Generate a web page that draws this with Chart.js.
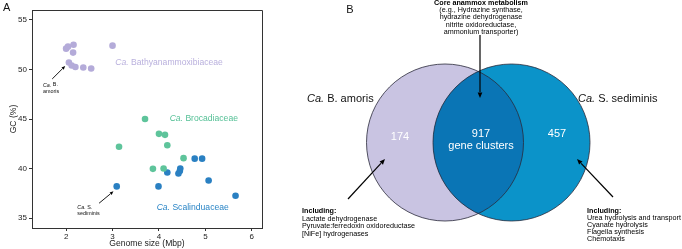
<!DOCTYPE html>
<html><head><meta charset="utf-8">
<script src="https://cdn.jsdelivr.net/npm/chart.js@4/dist/chart.umd.min.js"></script>
<style>
html,body{margin:0;padding:0;background:#fff;}
#wrap{position:relative;width:682px;height:249px;overflow:hidden;background:#fff;}
#a{position:absolute;left:0;top:0;width:300px;height:249px;}
#b{position:absolute;left:300px;top:0;width:382px;height:249px;}
</style></head><body>
<div id="wrap"><div id="a"><canvas id="ca"></canvas></div><div id="b"><canvas id="cb"></canvas></div></div>
<script>
// ---------- data ----------
const families = ['Bathyanammoxibiaceae','Brocadiaceae','Scalinduaceae'];
const bathyGenome = [2.00,2.04,2.16,2.15,2.06,2.12,2.20,2.37,2.54,3.00];
const bathyGC     = [52.1,52.3,52.5,51.7,50.7,50.4,50.25,50.2,50.1,52.4];
const brocGenome  = [3.70,4.00,4.13,3.14,4.18,4.53,3.87,4.10];
const brocGC      = [45.0,43.5,43.4,42.2,42.35,41.05,39.97,40.0];
const scalGenome  = [4.77,4.93,4.46,4.45,4.42,4.18,3.09,3.99,5.07,5.65];
const scalGC      = [41.0,41.0,40.0,39.75,39.5,39.6,38.2,38.2,38.8,37.25];
const xTicks = [2,3,4,5,6];
const yTicks = [35,40,45,50,55];
const vennLabels = ['B. amoris','S. sediminis'];
const vennCounts = [174,917,457]; // unique amoris, shared, unique sediminis
const coreText = ['(e.g., Hydrazine synthase,','hydrazine dehydrogenase','nitrite oxidoreductase,','ammonium transporter)'];
const leftIncl = ['Lactate dehydrogenase','Pyruvate:ferredoxin oxidoreductase','[NiFe] hydrogenases'];
const rightIncl = ['Urea hydrolysis and transport','Cyanate hydrolysis','Flagella synthesis','Chemotaxis'];

const F = '"Liberation Sans", Arial, Helvetica, sans-serif';
const COL = ['#b4abd9','#5ec49b','#2a80c2'];
const TXT = ['#b9b0dd','#55c096','#2a85c6'];

function rich(ctx, segs, x, y, size, color, align){
  ctx.save();
  ctx.fillStyle = color; ctx.textBaseline = 'middle'; ctx.textAlign = 'left';
  let w = 0;
  const fonts = segs.map(s => (s.i?'italic ':'') + (s.b?'bold ':'') + size + 'px ' + F);
  segs.forEach((s,k)=>{ ctx.font = fonts[k]; w += ctx.measureText(s.t).width; });
  let sx = align==='center' ? x - w/2 : (align==='right' ? x - w : x);
  segs.forEach((s,k)=>{ ctx.font = fonts[k]; ctx.fillText(s.t, sx, y); sx += ctx.measureText(s.t).width; });
  ctx.restore();
}
function arrow(ctx, x1,y1,x2,y2, head, lw){
  ctx.save();
  ctx.strokeStyle = '#000'; ctx.fillStyle = '#000'; ctx.lineWidth = lw||1;
  const a = Math.atan2(y2-y1, x2-x1);
  const bx = x2 - head*Math.cos(a), by = y2 - head*Math.sin(a);
  ctx.beginPath(); ctx.moveTo(x1,y1); ctx.lineTo(bx,by); ctx.stroke();
  ctx.beginPath(); ctx.moveTo(x2,y2);
  ctx.lineTo(x2 - head*Math.cos(a-0.4), y2 - head*Math.sin(a-0.4));
  ctx.lineTo(x2 - head*Math.cos(a+0.4), y2 - head*Math.sin(a+0.4));
  ctx.closePath(); ctx.fill();
  ctx.restore();
}

// ---------- panel A ----------
const annotA = {
  id:'annotA',
  afterDraw(chart){
    const {ctx, chartArea:ca, scales:{x,y}} = chart;
    ctx.save();
    ctx.strokeStyle = '#333'; ctx.lineWidth = 1;
    ctx.beginPath();
    ctx.moveTo(ca.left, Math.round(ca.top)+0.5); ctx.lineTo(Math.round(ca.right)+0.5, Math.round(ca.top)+0.5);
    ctx.lineTo(Math.round(ca.right)+0.5, ca.bottom);
    ctx.stroke();
    ctx.restore();
    rich(ctx,[{t:'A'}],3,8,11,'#111','left');
    rich(ctx,[{t:'Ca.',i:true},{t:' '+families[0]}], x.getPixelForValue(3.06), y.getPixelForValue(50.65), 8.6, TXT[0], 'left');
    rich(ctx,[{t:'Ca.',i:true},{t:' '+families[1]}], x.getPixelForValue(4.23), y.getPixelForValue(45.0), 8.6, TXT[1], 'left');
    rich(ctx,[{t:'Ca.',i:true},{t:' '+families[2]}], x.getPixelForValue(3.95), y.getPixelForValue(36.05), 8.6, TXT[2], 'left');
    rich(ctx,[{t:'Ca.',i:true},{t:' B.'}], x.getPixelForValue(1.50), y.getPixelForValue(48.43), 5.4, '#111', 'left');
    rich(ctx,[{t:'amoris'}], x.getPixelForValue(1.50), y.getPixelForValue(47.75), 5.4, '#111', 'left');
    rich(ctx,[{t:'Ca.',i:true},{t:' S.'}], x.getPixelForValue(2.24), y.getPixelForValue(36.06), 5.4, '#111', 'left');
    rich(ctx,[{t:'sediminis'}], x.getPixelForValue(2.24), y.getPixelForValue(35.42), 5.4, '#111', 'left');
    arrow(ctx, x.getPixelForValue(1.70), y.getPixelForValue(49.04), x.getPixelForValue(1.98), y.getPixelForValue(50.35), 4, 0.9);
    arrow(ctx, x.getPixelForValue(2.71), y.getPixelForValue(36.5), x.getPixelForValue(3.02), y.getPixelForValue(37.7), 4, 0.9);
  }
};
const pts = (xs,ys)=>xs.map((v,i)=>({x:v,y:ys[i]}));
new Chart(document.getElementById('ca'),{
  type:'scatter',
  data:{datasets:[
    {label:families[0],data:pts(bathyGenome,bathyGC),backgroundColor:COL[0],borderWidth:0,pointRadius:3.3},
    {label:families[1],data:pts(brocGenome,brocGC),backgroundColor:COL[1],borderWidth:0,pointRadius:3.3},
    {label:families[2],data:pts(scalGenome,scalGC),backgroundColor:COL[2],borderWidth:0,pointRadius:3.3}
  ]},
  options:{
    responsive:true, maintainAspectRatio:false, animation:false, events:[],
    layout:{padding:{left:0,top:10,right:38,bottom:0}},
    plugins:{legend:{display:false},tooltip:{enabled:false}},
    scales:{
      x:{type:'linear',min:1.265,max:6.22,
        afterBuildTicks:s=>{s.ticks=xTicks.map(v=>({value:v}));},
        afterFit:s=>{s.height=21;},
        grid:{display:true,drawOnChartArea:false,drawTicks:true,tickLength:3,color:'#333',lineWidth:1},
        border:{display:true,color:'#333',width:1},
        ticks:{font:{family:F,size:8},color:'#222',padding:1,maxRotation:0},
        title:{display:true,text:'Genome size (Mbp)',font:{family:F,size:8.6},color:'#222',padding:0}},
      y:{type:'linear',min:34,max:56,
        afterBuildTicks:s=>{s.ticks=yTicks.map(v=>({value:v}));},
        afterFit:s=>{s.width=32;},
        grid:{display:true,drawOnChartArea:false,drawTicks:true,tickLength:3,color:'#333',lineWidth:1},
        border:{display:true,color:'#333',width:1},
        ticks:{font:{family:F,size:8},color:'#222',padding:2},
        title:{display:true,text:'GC (%)',font:{family:F,size:8.6},color:'#222',padding:{top:8,bottom:0}}}
    }
  },
  plugins:[annotA]
});

// ---------- panel B ----------
const VG = {cx:[145,211.5], cy:142.5, r:78.5};
const VC = {a:'#c9c4e2', b:'#0b93c9', ab:'#0a75b5'};
const annotB = {
  id:'annotB',
  afterDatasetsDraw(chart){
    const {ctx, scales:{x,y}} = chart;
    const p = chart.getDatasetMeta(0).data;
    const A = p[0], B = p[1];
    const rA = A.options.radius, rB = B.options.radius;
    ctx.save();
    ctx.beginPath(); ctx.arc(A.x,A.y,rA,0,Math.PI*2); ctx.clip();
    ctx.beginPath(); ctx.arc(B.x,B.y,rB,0,Math.PI*2); ctx.fillStyle = VC.ab; ctx.fill();
    ctx.restore();
    ctx.save(); ctx.strokeStyle = '#2a2a3a'; ctx.lineWidth = 0.8;
    ctx.beginPath(); ctx.arc(A.x,A.y,rA,0,Math.PI*2); ctx.stroke();
    ctx.beginPath(); ctx.arc(B.x,B.y,rB,0,Math.PI*2); ctx.stroke();
    ctx.restore();
    const X = v=>x.getPixelForValue(v), Y = v=>y.getPixelForValue(v);
    rich(ctx,[{t:'B'}],X(50),Y(10),11,'#111','center');
    rich(ctx,[{t:'Core anammox metabolism',b:true}],X(181),Y(3),7.2,'#000','center');
    coreText.forEach((t,k)=>rich(ctx,[{t}],X(181),Y(10.3+k*7.2),7.2,'#000','center'));
    arrow(ctx,X(180),Y(35),X(180),Y(98),6,1.2);
    rich(ctx,[{t:'Ca.',i:true},{t:' '+vennLabels[0]}],X(7),Y(99),11,'#111','left');
    rich(ctx,[{t:'Ca.',i:true},{t:' '+vennLabels[1]}],X(278),Y(99),11,'#111','left');
    rich(ctx,[{t:String(vennCounts[0])}],X(100),Y(137),11,'#fff','center');
    rich(ctx,[{t:String(vennCounts[1])}],X(181),Y(133.5),11,'#fff','center');
    rich(ctx,[{t:'gene clusters'}],X(181),Y(146),11,'#fff','center');
    rich(ctx,[{t:String(vennCounts[2])}],X(257),Y(133.5),11,'#fff','center');
    arrow(ctx,X(48),Y(199),X(85),Y(159),6,1.2);
    arrow(ctx,X(313),Y(197),X(277),Y(159),6,1.2);
    rich(ctx,[{t:'Including:',b:true}],X(2),Y(211),7.2,'#000','left');
    leftIncl.forEach((t,k)=>rich(ctx,[{t}],X(2),Y(218.8+k*7.6),7.2,'#000','left'));
    rich(ctx,[{t:'Including:',b:true}],X(287),Y(210.7),7.2,'#000','left');
    rightIncl.forEach((t,k)=>rich(ctx,[{t}],X(287),Y(217.8+k*7),7.2,'#000','left'));
  }
};
new Chart(document.getElementById('cb'),{
  type:'bubble',
  data:{datasets:[{
    data:[{x:VG.cx[0],y:VG.cy,r:VG.r},{x:VG.cx[1],y:VG.cy,r:VG.r}],
    backgroundColor:[VC.a,VC.b],borderWidth:0,clip:false
  }]},
  options:{
    responsive:true, maintainAspectRatio:false, animation:false, events:[],
    layout:{padding:0,autoPadding:false},
    plugins:{legend:{display:false},tooltip:{enabled:false}},
    scales:{x:{display:false,min:0,max:382},y:{display:false,min:0,max:249,reverse:true}}
  },
  plugins:[annotB]
});
</script>
</body></html>
